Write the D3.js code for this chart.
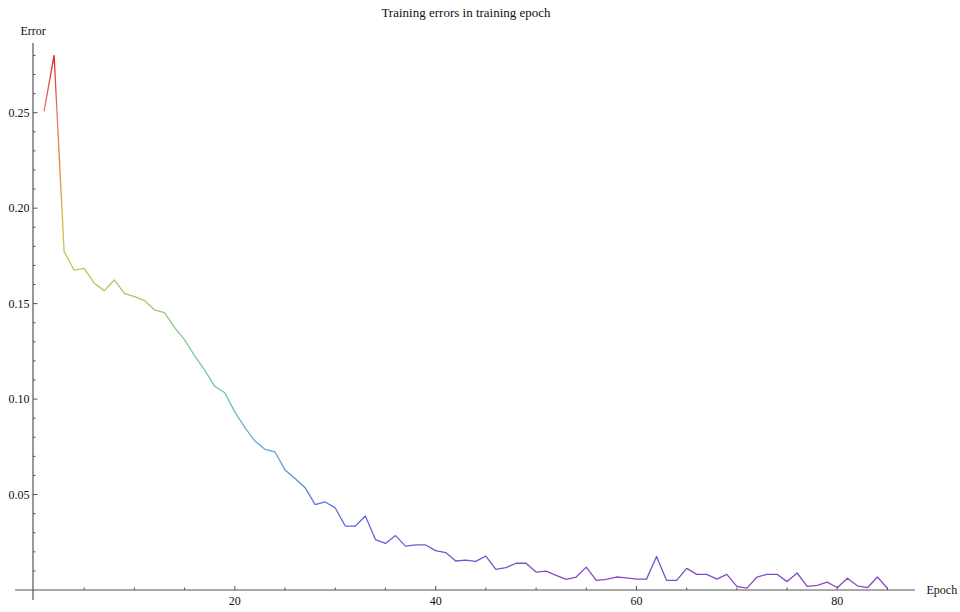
<!DOCTYPE html>
<html>
<head>
<meta charset="utf-8">
<script src="https://d3js.org/d3.v7.min.js"></script>
<style>
  body { margin: 0; background: #fff; }
  text { font-family: "Liberation Serif", "DejaVu Serif", serif; fill: #111; }
</style>
</head>
<body>
<div id="chart"></div>
<script>

// training error per epoch
var epochs = d3.range(1, 86);
var errors = [
  0.2507, 0.2800, 0.1773, 0.1675, 0.1685, 0.1607, 0.1568, 0.1624, 0.1554, 0.1537,
  0.1516, 0.1467, 0.1453, 0.1375, 0.1310, 0.1226, 0.1152, 0.1067, 0.1033, 0.0933,
  0.0850, 0.0780, 0.0737, 0.0723, 0.0629, 0.0584, 0.0536, 0.0447, 0.0461, 0.0430,
  0.0335, 0.0335, 0.0388, 0.0264, 0.0244, 0.0285, 0.0230, 0.0236, 0.0236, 0.0206,
  0.0196, 0.0152, 0.0157, 0.0150, 0.0178, 0.0108, 0.0117, 0.0140, 0.0140, 0.0094,
  0.0099, 0.0077, 0.0056, 0.0068, 0.0120, 0.0050, 0.0056, 0.0068, 0.0063, 0.0057,
  0.0057, 0.0176, 0.0050, 0.0050, 0.0113, 0.0082, 0.0082, 0.0057, 0.0082, 0.0019,
  0.0010, 0.0068, 0.0082, 0.0082, 0.0044, 0.0089, 0.0019, 0.0024, 0.0041, 0.0012,
  0.0062, 0.0022, 0.0012, 0.0068, 0.0008
];

var xMajor = [20, 40, 60, 80];
var xMinor = d3.range(5, 86, 5);
var yMajor = [0.05, 0.10, 0.15, 0.20, 0.25];
var yMinor = d3.range(1, 29).map(function(d) { return d / 100; });

var title = "Training errors in training epoch";
var xLabel = "Epoch";
var yLabel = "Error";

// rainbow colours keyed by error value
var colorAt = [0.003, 0.02, 0.045, 0.07, 0.10, 0.13, 0.155, 0.175, 0.20, 0.22, 0.25, 0.28];
var colors = ["#8a48c2", "#6c58d2", "#5a76e0", "#64a0d8", "#70c0b8", "#88c890", "#a8c868", "#c4c656", "#d8b04e", "#e08a42", "#e87866", "#e02020"];

var svgWidth = 960, svgHeight = 612;

var svg = d3.select("#chart")
  .append("svg")
  .attr("width", svgWidth)
  .attr("height", svgHeight);

// scales
var x = d3.scaleLinear()
  .domain([0, 85])
  .range([34, 887.5]);

var y = d3.scaleLinear()
  .domain([0, 0.25])
  .range([590, 112.7]);

var axisColor = "#555";

// gradient along y so the line changes colour with the error value
var lo = colorAt[0], hi = colorAt[colorAt.length - 1];
var grad = svg.append("defs").append("linearGradient")
  .attr("id", "rb")
  .attr("gradientUnits", "userSpaceOnUse")
  .attr("x1", 0).attr("x2", 0)
  .attr("y1", y(lo)).attr("y2", y(hi));

grad.selectAll("stop")
  .data(colors)
  .enter().append("stop")
  .attr("offset", function(d, i) { return (colorAt[i] - lo) / (hi - lo); })
  .attr("stop-color", function(d) { return d; });

// x axis line
svg.append("line")
  .attr("x1", 15).attr("x2", 915)
  .attr("y1", y(0)).attr("y2", y(0))
  .attr("stroke", axisColor)
  .attr("stroke-width", 1.2);

// y axis line
svg.append("line")
  .attr("x1", 33).attr("x2", 33)
  .attr("y1", y(0.2865)).attr("y2", 600)
  .attr("stroke", axisColor)
  .attr("stroke-width", 1.2);

// x ticks, pointing up into the plot
svg.selectAll(".xminor")
  .data(xMinor)
  .enter().append("line")
  .attr("x1", function(d) { return x(d); })
  .attr("x2", function(d) { return x(d); })
  .attr("y1", y(0))
  .attr("y2", function(d) { return xMajor.indexOf(d) >= 0 ? y(0) - 4 : y(0) - 2.5; })
  .attr("stroke", axisColor);

svg.selectAll(".xlab")
  .data(xMajor)
  .enter().append("text")
  .attr("x", function(d) { return x(d); })
  .attr("y", 605)
  .attr("text-anchor", "middle")
  .style("font-size", "12px")
  .text(function(d) { return d; });

// y ticks, pointing right into the plot
svg.selectAll(".yminor")
  .data(yMinor)
  .enter().append("line")
  .attr("x1", 33)
  .attr("x2", function(d) { return Math.round(d * 100) % 5 == 0 ? 37.5 : 35.5; })
  .attr("y1", function(d) { return y(d); })
  .attr("y2", function(d) { return y(d); })
  .attr("stroke", axisColor);

svg.selectAll(".ylab")
  .data(yMajor)
  .enter().append("text")
  .attr("x", 29.5)
  .attr("y", function(d) { return y(d); })
  .attr("dy", "0.33em")
  .attr("text-anchor", "end")
  .style("font-size", "12px")
  .text(function(d) { return d3.format(".2f")(d); });

// axis labels + title
svg.append("text")
  .attr("x", 20.5).attr("y", 35)
  .style("font-size", "12px")
  .text(yLabel);

svg.append("text")
  .attr("x", 926.5).attr("y", 594)
  .style("font-size", "12px")
  .text(xLabel);

svg.append("text")
  .attr("x", 466).attr("y", 17)
  .attr("text-anchor", "middle")
  .style("font-size", "13px")
  .text(title);

// the error line
var line = d3.line()
  .x(function(d, i) { return x(epochs[i]); })
  .y(function(d) { return y(d); });

svg.append("path")
  .datum(errors)
  .attr("fill", "none")
  .attr("stroke", "url(#rb)")
  .attr("stroke-width", 1.3)
  .attr("stroke-linejoin", "round")
  .attr("d", line);

</script>
</body>
</html>
